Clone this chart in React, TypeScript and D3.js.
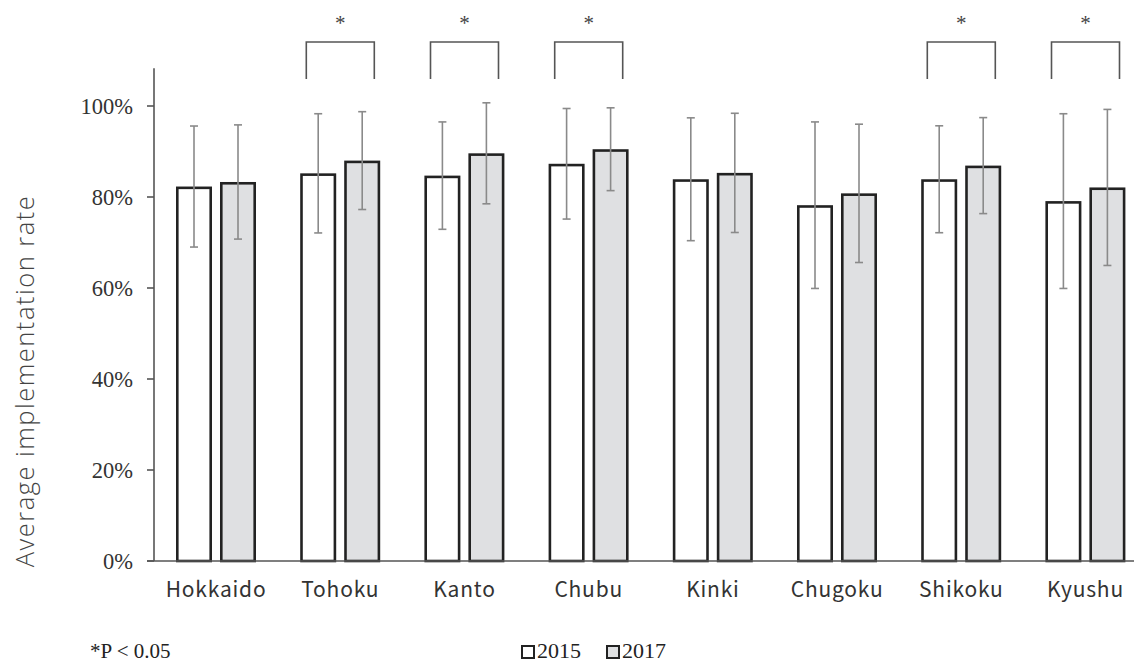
import React from "react";
import * as d3 from "d3";

const categories = ["Hokkaido", "Tohoku", "Kanto", "Chubu", "Kinki", "Chugoku", "Shikoku", "Kyushu"];
const years = ["2015", "2017"];
const mean2015 = [82.3, 85.2, 84.7, 87.3, 83.9, 78.2, 83.9, 79.1];
const sd2015 = [13.3, 13.1, 11.8, 12.15, 13.5, 18.3, 11.75, 19.2];
const mean2017 = [83.3, 88.0, 89.6, 90.5, 85.3, 80.8, 86.9, 82.1];
const sd2017 = [12.55, 10.75, 11.1, 9.1, 13.1, 15.2, 10.55, 17.15];
const significant = ["Tohoku", "Kanto", "Chubu", "Shikoku", "Kyushu"];
const yTicks = [0, 20, 40, 60, 80, 100];
const fills = ["#ffffff", "#dfe0e2"];

export default function App() {
  const W = 1134;
  const H = 664;
  const x0 = d3.scaleBand<string>().domain(categories).range([154, 154 + 8 * 124.2]).padding(0);
  const x1 = d3.scaleBand<string>().domain(years).range([22, 102]).paddingInner(8 / 44).paddingOuter(0);
  const y = d3.scaleLinear().domain([0, 100]).range([561, 106]);
  const sw = 2.6;
  const series = [
    { year: "2015", mean: mean2015, sd: sd2015 },
    { year: "2017", mean: mean2017, sd: sd2017 },
  ];
  const serif = "'Liberation Serif', 'Times New Roman', serif";
  const sans = "'Noto Sans CJK JP', 'Noto Sans', sans-serif";

  return (
    <svg width={W} height={H} style={{ position: "absolute", left: 0, top: 0, background: "#fff" }}>
      {/* bars */}
      {series.map((s, si) =>
        categories.map((c, i) => {
          const bx = (x0(c) as number) + (x1(s.year) as number);
          const bw = x1.bandwidth();
          const top = y(s.mean[i]);
          return (
            <rect
              key={c + s.year}
              x={bx + sw / 2}
              y={top + sw / 2}
              width={bw - sw}
              height={y(0) - top - sw / 2}
              fill={fills[si]}
              stroke="#222"
              strokeWidth={sw}
            />
          );
        })
      )}
      {/* error bars */}
      {series.map((s) =>
        categories.map((c, i) => {
          const cx = (x0(c) as number) + (x1(s.year) as number) + x1.bandwidth() / 2;
          const hi = y(s.mean[i] + s.sd[i]);
          const lo = y(s.mean[i] - s.sd[i]);
          return (
            <g key={"e" + c + s.year} stroke="#8a8a8a" strokeWidth={1.6}>
              <line x1={cx} x2={cx} y1={hi} y2={lo} />
              <line x1={cx - 4} x2={cx + 4} y1={hi} y2={hi} />
              <line x1={cx - 4} x2={cx + 4} y1={lo} y2={lo} />
            </g>
          );
        })
      )}
      {/* axes */}
      <line x1={154} x2={154} y1={y(108.3)} y2={y(0)} stroke="#555" strokeWidth={1.6} />
      <line x1={147} x2={W} y1={y(0)} y2={y(0)} stroke="#555" strokeWidth={1.6} />
      {yTicks.map((t) => (
        <g key={"t" + t}>
          <line x1={147} x2={154} y1={y(t)} y2={y(t)} stroke="#555" strokeWidth={1.6} />
          <text x={133} y={y(t) + 8} textAnchor="end" fontFamily={serif} fontSize={22.5} fill="#333">
            {t + "%"}
          </text>
        </g>
      ))}
      {categories.map((c) => (
        <text
          key={"l" + c}
          x={(x0(c) as number) + x0.bandwidth() / 2}
          y={597}
          textAnchor="middle"
          fontFamily={sans}
          fontSize={21}
          letterSpacing={0.8}
          fill="#333"
        >
          {c}
        </text>
      ))}
      <text
        transform={`translate(34,${381}) rotate(-90)`}
        textAnchor="middle"
        fontFamily="'Open Sans', 'Noto Sans', sans-serif"
        fontSize={25.5}
        fontWeight={300}
        letterSpacing={1.5}
        fill="#444"
      >
        Average implementation rate
      </text>
      {/* significance brackets */}
      {significant.map((c) => {
        const cx = (x0(c) as number) + x0.bandwidth() / 2;
        return (
          <g key={"s" + c}>
            <path
              d={`M${cx - 34},79 V42 H${cx + 34} V79`}
              fill="none"
              stroke="#555"
              strokeWidth={1.6}
            />
            <text x={cx} y={30} textAnchor="middle" fontFamily={serif} fontSize={21} fill="#444">
              *
            </text>
          </g>
        );
      })}
      {/* footnote and legend */}
      <text x={90} y={658} fontFamily={serif} fontSize={21} fill="#222">
        *P &lt; 0.05
      </text>
      {years.map((yr, i) => {
        const lx = 521 + i * 85;
        return (
          <g key={"lg" + yr}>
            <rect x={lx + 1} y={646} width={12} height={12} fill={fills[i]} stroke="#222" strokeWidth={2} />
            <text x={lx + 16} y={658} fontFamily={serif} fontSize={22} fill="#222">
              {yr}
            </text>
          </g>
        );
      })}
    </svg>
  );
}
